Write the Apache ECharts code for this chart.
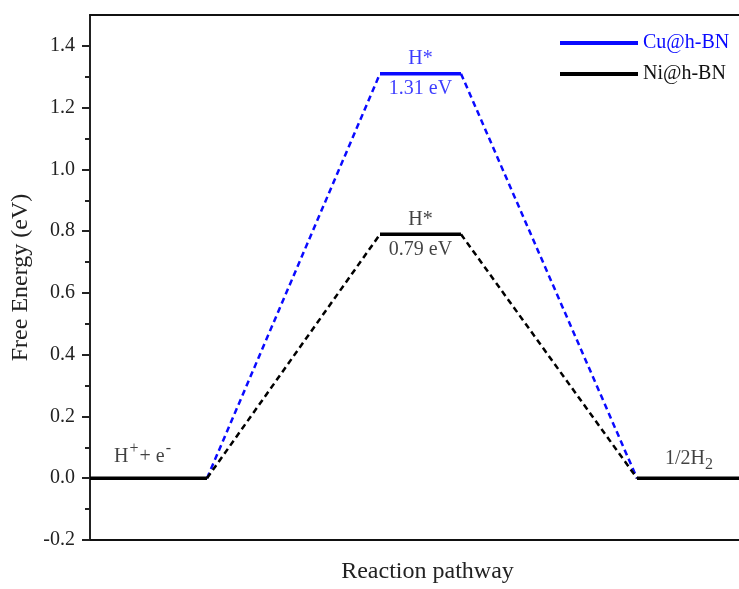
<!DOCTYPE html>
<html>
<head>
<meta charset="utf-8">
<title>HER free energy</title>
<script src="https://cdn.jsdelivr.net/npm/echarts@6/dist/echarts.min.js"></script>
<style>
  html, body { margin: 0; padding: 0; background: #fff; }
  #chart { width: 739px; height: 589px; }
</style>
</head>
<body>
<div id="chart"></div>
<script>
// reaction coordinate (arbitrary units along the pathway)
const startLevel = [[0, 0], [1.17, 0]]
const endLevel = [[5.47, 0], [6.49, 0]]
const plateauX = [2.90, 3.71]

const cuEnergy = 1.31
const niEnergy = 0.79

const majorTicks = [-0.2, 0, 0.2, 0.4, 0.6, 0.8, 1.0, 1.2, 1.4]
const minorTicks = [-0.1, 0.1, 0.3, 0.5, 0.7, 0.9, 1.1, 1.3]

const blue = '#0a0aff'
const black = '#000'
const font = '"Liberation Serif", "DejaVu Serif", serif'

const plateau = e => plateauX.map(x => [x, e])
const ramps = e => [startLevel[1], [plateauX[0], e], null, [plateauX[1], e], endLevel[0]]
  .map(p => p === null ? [null, null] : p)
const midX = (plateauX[0] + plateauX[1]) / 2

const chart = echarts.init(document.getElementById('chart'))

const dashed = (name, color, e) => ({
  name, type: 'line', data: ramps(e), symbol: 'none', connectNulls: false,
  lineStyle: {color, width: 2.5, type: [6, 4]}, z: 2
})
const solid = (name, color, data) => ({
  name, type: 'line', data, symbol: 'none',
  lineStyle: {color, width: 3.5}, itemStyle: {color}, z: 3
})

const levelLabel = (x, y, pos, text, color) => ({
  value: [x, y],
  label: {show: true, position: pos, distance: 5, formatter: text, color}
})

chart.setOption({
  animation: false,
  grid: {left: 90, right: 0, top: 15, bottom: 46},
  legend: {
    orient: 'vertical', left: 555, top: 28, itemWidth: 78, itemHeight: 4, itemGap: 11,
    textStyle: {fontFamily: font, fontSize: 20},
    data: [
      {name: 'Cu@h-BN', icon: 'rect', textStyle: {color: blue}},
      {name: 'Ni@h-BN', icon: 'rect', textStyle: {color: '#111'}}
    ]
  },
  xAxis: [{
    type: 'value', min: 0, max: 6.49,
    name: 'Reaction pathway', nameLocation: 'middle', nameGap: 20,
    nameTextStyle: {fontFamily: font, fontSize: 24, color: '#222', padding: [0, 0, 0, 26]},
    axisLine: {onZero: false, lineStyle: {color: '#111', width: 2}},
    axisTick: {show: false}, axisLabel: {show: false}, splitLine: {show: false}
  }, {
    type: 'value', min: 0, max: 6.49, position: 'top',
    axisLine: {show: true, onZero: false, lineStyle: {color: '#111', width: 2}},
    axisTick: {show: false}, axisLabel: {show: false}, splitLine: {show: false}
  }],
  yAxis: [{
    type: 'value', min: -0.2, max: 1.5,
    name: 'Free Energy (eV)', nameLocation: 'middle', nameGap: 52,
    nameTextStyle: {fontFamily: font, fontSize: 24, color: '#222'},
    axisLine: {show: true, onZero: false, lineStyle: {color: '#222', width: 2}},
    axisTick: {show: true, inside: false, length: 8, lineStyle: {color: '#222', width: 2}, customValues: majorTicks},
    axisLabel: {fontFamily: font, fontSize: 20, color: '#222', margin: 15, customValues: majorTicks,
      formatter: v => v.toFixed(1)},
    splitLine: {show: false}
  }, {
    type: 'value', min: -0.2, max: 1.5, position: 'left',
    axisLine: {show: false, onZero: false},
    axisTick: {show: true, length: 5, lineStyle: {color: '#222', width: 2}, customValues: minorTicks},
    axisLabel: {show: false}, splitLine: {show: false}
  }],
  series: [
    dashed('Cu ramps', blue, cuEnergy),
    dashed('Ni ramps', black, niEnergy),
    solid('Cu@h-BN', blue, plateau(cuEnergy)),
    solid('Ni@h-BN', black, plateau(niEnergy)),
    solid('start', black, startLevel),
    solid('end', black, endLevel),
    {
      name: 'labels', type: 'scatter', symbolSize: 0, z: 5,
      label: {fontFamily: font, fontSize: 20,
        rich: {
          n: {fontFamily: font, fontSize: 20, color: '#111'},
          sup: {fontFamily: font, fontSize: 16, color: '#111', padding: [0, 1, 16, 1]},
          sub: {fontFamily: font, fontSize: 16, color: '#111', padding: [12, 0, 0, 0]}
        }},
      data: [
        levelLabel(midX, cuEnergy, 'top', 'H*', blue),
        levelLabel(midX, cuEnergy, 'bottom', '1.31 eV', blue),
        levelLabel(midX, niEnergy, 'top', 'H*', '#111'),
        levelLabel(midX, niEnergy, 'bottom', '0.79 eV', '#111'),
        levelLabel(0.53, 0, 'top', '{n|H}{sup|+}{n|+ e}{sup|-}', '#111'),
        levelLabel(5.99, 0, 'top', '{n|1/2H}{sub|2}', '#111')
      ]
    }
  ]
})
</script>
</body>
</html>
